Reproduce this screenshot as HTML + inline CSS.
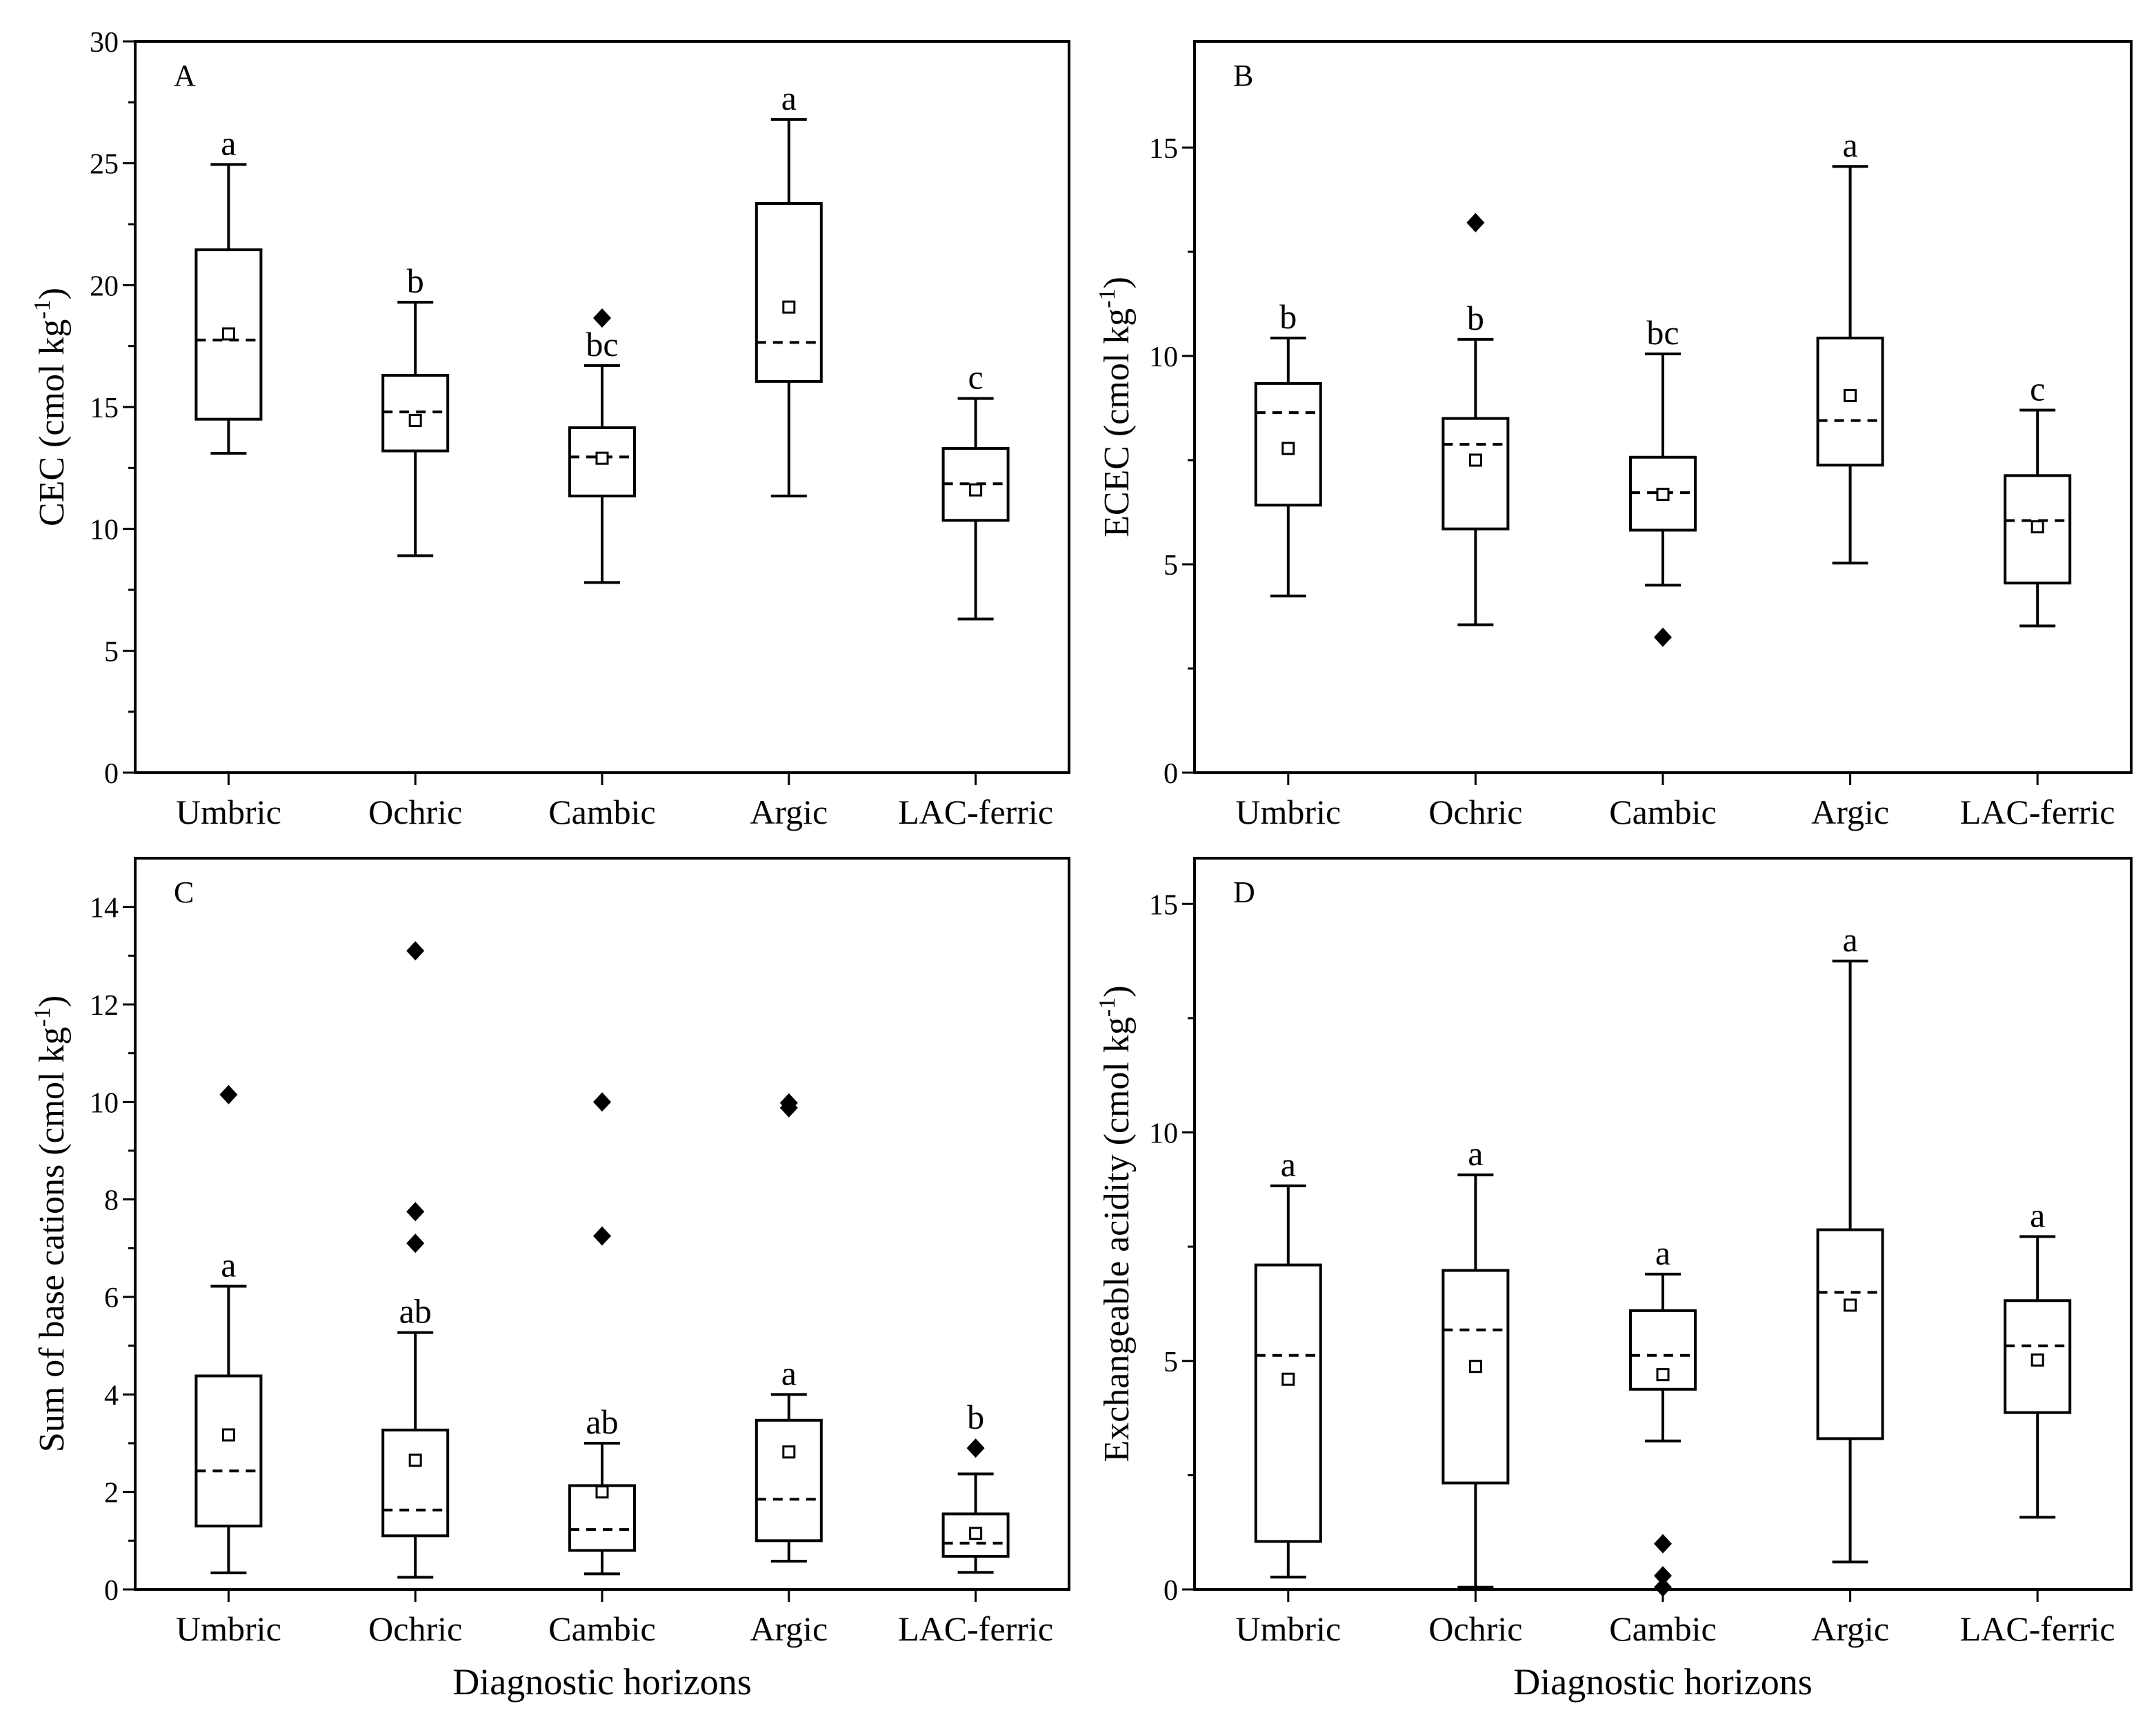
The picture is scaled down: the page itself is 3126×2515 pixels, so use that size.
<!DOCTYPE html>
<html><head><meta charset="utf-8"><style>
html,body{margin:0;padding:0;background:#fff}
svg, svg text{font-family:"Liberation Serif","DejaVu Serif",serif}
</style></head><body>
<svg id="chart" width="3126" height="2510" viewBox="0 0 3126 2510" xmlns="http://www.w3.org/2000/svg" font-family="Liberation Serif, DejaVu Serif, serif"></svg>
<script>
const categories = ["Umbric","Ochric","Cambic","Argic","LAC-ferric"];
// A: CEC
const aWhiskLow = [13.1, 8.9, 7.8, 11.35, 6.3];
const aQ1 = [14.5, 13.2, 11.35, 16.05, 10.35];
const aMedian = [17.75, 14.8, 12.95, 17.65, 11.85];
const aMean = [18.0, 14.45, 12.9, 19.1, 11.6];
const aQ3 = [21.45, 16.3, 14.15, 23.35, 13.3];
const aWhiskHigh = [24.95, 19.3, 16.7, 26.8, 15.35];
const aOutliers = [[], [], [18.65], [], []];
const aLetters = ["a","b","bc","a","c"];
const aTicks = [0,5,10,15,20,25,30];
// B: ECEC
const bWhiskLow = [4.24, 3.55, 4.5, 5.03, 3.52];
const bQ1 = [6.42, 5.85, 5.82, 7.38, 4.55];
const bMedian = [8.64, 7.88, 6.72, 8.45, 6.05];
const bMean = [7.78, 7.5, 6.68, 9.05, 5.9];
const bQ3 = [9.34, 8.5, 7.57, 10.43, 7.13];
const bWhiskHigh = [10.43, 10.4, 10.05, 14.55, 8.7];
const bOutliers = [[], [13.2], [3.25], [], []];
const bLetters = ["b","b","bc","a","c"];
const bTicks = [0,5,10,15];
// C: Sum of base cations
const cWhiskLow = [0.34, 0.25, 0.32, 0.58, 0.35];
const cQ1 = [1.3, 1.1, 0.8, 1.0, 0.68];
const cMedian = [2.43, 1.63, 1.23, 1.85, 0.95];
const cMean = [3.17, 2.65, 2.0, 2.82, 1.15];
const cQ3 = [4.38, 3.27, 2.13, 3.47, 1.55];
const cWhiskHigh = [6.22, 5.27, 3.0, 4.0, 2.37];
const cOutliers = [[10.15], [13.1, 7.75, 7.1], [10.0, 7.25], [9.98, 9.88], [2.9]];
const cLetters = ["a","ab","ab","a","b"];
const cTicks = [0,2,4,6,8,10,12,14];
// D: Exchangeable acidity
const dWhiskLow = [0.27, 0.05, 3.25, 0.6, 1.58];
const dQ1 = [1.05, 2.33, 4.38, 3.3, 3.87];
const dMedian = [5.12, 5.68, 5.12, 6.5, 5.33];
const dMean = [4.6, 4.88, 4.7, 6.22, 5.02];
const dQ3 = [7.1, 6.98, 6.1, 7.87, 6.32];
const dWhiskHigh = [8.83, 9.07, 6.9, 13.75, 7.72];
const dOutliers = [[], [], [1.0, 0.3, 0.05], [], []];
const dLetters = ["a","a","a","a","a"];
const dTicks = [0,5,10,15];

const svg = document.getElementById('chart');
const NS = "http://www.w3.org/2000/svg";
const FF = "Liberation Serif, DejaVu Serif, serif";
function mk(tag, attrs, parent){
  const e = document.createElementNS(NS, tag);
  for (const k in attrs) e.setAttribute(k, attrs[k]);
  if (tag === 'text') e.setAttribute('font-family', FF);
  (parent||svg).appendChild(e);
  return e;
}

function panel(cfg){
  const g = mk('g', {});
  
  
  const L=cfg.x0, R=cfg.x1, T=cfg.y0, B=cfg.y1;
  const y = v => B - v / cfg.ymax * (B - T);
  const step = (R - L) / 5;
  const x = i => L + step * (i + 0.5);
  const frame = mk('rect', {x:L, y:T, width:R-L, height:B-T, fill:'none', stroke:'#000', 'stroke-width':4}, g);
  
  
  cfg.ticks.forEach(t => {
    mk('line', {x1:L-18, x2:L, y1:y(t), y2:y(t), stroke:'#000', 'stroke-width':3}, g);
    const tl = mk('text', {x:L-24, y:y(t)+15, 'font-size':42, 'text-anchor':'end'}, g);
    tl.textContent = t;
    
    
  });
  for (let i=0;i<cfg.ticks.length-1;i++){
    const m = (cfg.ticks[i]+cfg.ticks[i+1])/2;
    mk('line', {x1:L-10, x2:L, y1:y(m), y2:y(m), stroke:'#000', 'stroke-width':3}, g);
  }
  const pl = mk('text', {x:L+56, y:T+64, 'font-size':44}, g);
  pl.textContent = cfg.letter;
  
  
  const yt = mk('text', {transform:`translate(${cfg.titleX},${(T+B)/2}) rotate(-90)`, 'font-size':52, 'text-anchor':'middle'}, g);
  yt.innerHTML = cfg.title + ' (cmol kg<tspan dy="-20" font-size="34">-1</tspan><tspan dy="20">)</tspan>';
  
  
  const bw = 94, cw = 52;
  categories.forEach((c, i) => {
    const cx = x(i);
    mk('line', {x1:cx, x2:cx, y1:B, y2:B+18, stroke:'#000', 'stroke-width':3}, g);
    const cl = mk('text', {x:cx, y:B+74, 'font-size':50, 'text-anchor':'middle'}, g);
    cl.textContent = c;
    
    
    const bg = mk('g', {}, g);
    
    
    const st = {stroke:'#000', 'stroke-width':4, fill:'none'};
    mk('line', Object.assign({x1:cx, x2:cx, y1:y(cfg.hi[i]), y2:y(cfg.q3[i])}, st), bg);
    mk('line', Object.assign({x1:cx, x2:cx, y1:y(cfg.q1[i]), y2:y(cfg.lo[i])}, st), bg);
    mk('line', Object.assign({x1:cx-cw/2, x2:cx+cw/2, y1:y(cfg.hi[i]), y2:y(cfg.hi[i])}, st), bg);
    mk('line', Object.assign({x1:cx-cw/2, x2:cx+cw/2, y1:y(cfg.lo[i]), y2:y(cfg.lo[i])}, st), bg);
    mk('rect', Object.assign({x:cx-bw/2, y:y(cfg.q3[i]), width:bw, height:y(cfg.q1[i])-y(cfg.q3[i])}, st), bg);
    mk('line', Object.assign({x1:cx-bw/2, x2:cx+bw/2, y1:y(cfg.med[i]), y2:y(cfg.med[i]), 'stroke-dasharray':'14,10'}, st), bg);
    mk('rect', {x:cx-8, y:y(cfg.mean[i])-8, width:16, height:16, fill:'#fff', stroke:'#000', 'stroke-width':3}, bg);
    let anchorY = y(cfg.hi[i]);
    cfg.out[i].forEach(o => {
      const yy = y(o);
      const d = mk('polygon', {points:`${cx},${yy-14} ${cx+13},${yy} ${cx},${yy+14} ${cx-13},${yy}`, fill:'#000'}, bg);
      
      
      // outlier just above the whisker pushes the letter upward
      if (yy < anchorY && anchorY - yy < 60) anchorY = yy - 14;
    });
    const lt = mk('text', {x:cx, y:anchorY-14, 'font-size':50, 'text-anchor':'middle'}, bg);
    lt.textContent = cfg.letters[i];
    
    
  });
  if (cfg.xtitle){
    const xt = mk('text', {x:(L+R)/2, y:2456, 'font-size':54, 'text-anchor':'middle'}, g);
    xt.textContent = 'Diagnostic horizons';
    
    
  }
}

panel({letter:'A', x0:196, x1:1550, y0:60, y1:1120, ymax:30, ticks:aTicks, title:'CEC', titleX:92,
  lo:aWhiskLow, q1:aQ1, med:aMedian, mean:aMean, q3:aQ3, hi:aWhiskHigh, out:aOutliers, letters:aLetters});
panel({letter:'B', x0:1732, x1:3090, y0:60, y1:1120, ymax:17.55, ticks:bTicks, title:'ECEC', titleX:1636,
  lo:bWhiskLow, q1:bQ1, med:bMedian, mean:bMean, q3:bQ3, hi:bWhiskHigh, out:bOutliers, letters:bLetters});
panel({letter:'C', x0:196, x1:1550, y0:1244, y1:2304, ymax:15, ticks:cTicks, title:'Sum of base cations', titleX:92, xtitle:true,
  lo:cWhiskLow, q1:cQ1, med:cMedian, mean:cMean, q3:cQ3, hi:cWhiskHigh, out:cOutliers, letters:cLetters});
panel({letter:'D', x0:1732, x1:3090, y0:1244, y1:2304, ymax:16, ticks:dTicks, title:'Exchangeable acidity', titleX:1636, xtitle:true,
  lo:dWhiskLow, q1:dQ1, med:dMedian, mean:dMean, q3:dQ3, hi:dWhiskHigh, out:dOutliers, letters:dLetters});
</script>
</body></html>
